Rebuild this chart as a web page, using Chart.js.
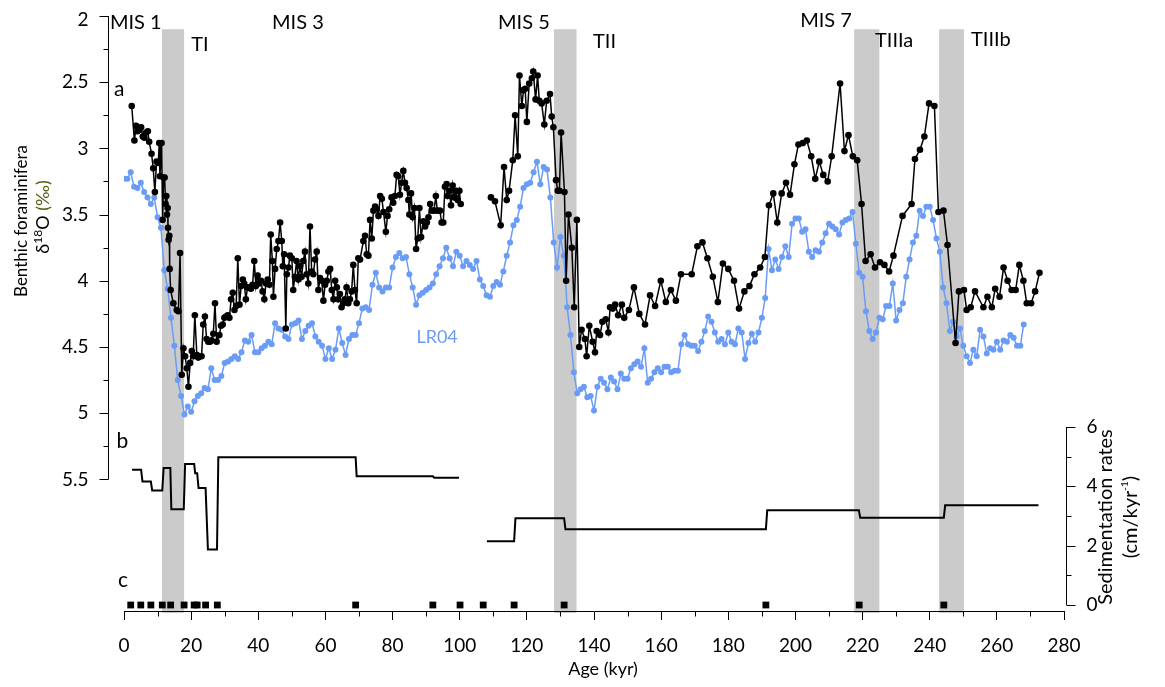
<!DOCTYPE html>
<html>
<head>
<meta charset="utf-8">
<script src="https://cdn.jsdelivr.net/npm/chart.js@4.4.1/dist/chart.umd.min.js"></script>
<style>
  html, body { margin: 0; padding: 0; background: #fff; }
  #wrap { width: 1165px; height: 687px; }
</style>
</head>
<body>
<div id="wrap"><canvas id="c" width="1165" height="687"></canvas></div>
<script>
// Benthic foraminifera d18O of the core (kyr, per mil); null marks the hiatus
const coreAge = [
  2.3, 3.1, 3.6, 4.0, 4.6, 5.1, 5.6, 6.1, 6.6, 7.1, 7.5, 8.2, 8.7, 9.2, 9.7, 10.2, 10.5, 10.7, 11.2, 11.5,
  11.8, 12.1, 12.4, 12.6, 12.8, 13.0, 13.1, 13.3, 13.5, 13.6, 13.9, 14.7, 15.7, 16.2, 16.7, 17.2, 17.7, 18.2, 18.7, 19.2,
  19.7, 20.2, 20.6, 21.1, 21.7, 22.1, 22.6, 23.1, 23.6, 24.1, 24.6, 25.1, 25.6, 26.1, 26.6, 27.1, 27.6, 28.4, 28.9, 29.4,
  29.9, 30.4, 30.9, 31.4, 31.9, 32.4, 32.9, 33.4, 33.9, 34.4, 34.9, 35.4, 35.8, 36.3, 36.8, 37.3, 37.8, 38.3, 38.8, 39.3,
  39.8, 40.3, 40.8, 41.3, 41.8, 42.3, 42.8, 43.3, 43.7, 44.2, 44.5, 45.0, 45.5, 46.0, 46.5, 47.0, 47.3, 47.7, 48.2, 48.5,
  49.0, 49.4, 50.0, 50.4, 50.9, 51.4, 51.9, 52.4, 52.9, 53.4, 53.9, 54.4, 54.9, 55.4, 55.9, 56.4, 56.9, 57.4, 57.9, 58.4,
  58.9, 59.4, 59.9, 60.4, 60.9, 61.4, 61.9, 62.4, 62.9, 63.4, 63.8, 64.3, 64.8, 65.3, 65.8, 66.3, 66.8, 67.3, 67.8, 68.3,
  68.8, 69.3, 69.8, 70.3, 71.3, 71.8, 72.3, 72.8, 73.3, 73.8, 74.3, 74.8, 75.3, 75.8, 76.3, 76.8, 77.3, 78.0, 78.5, 79.0,
  79.7, 80.2, 80.7, 81.2, 81.7, 82.2, 82.7, 83.2, 83.7, 84.2, 84.7, 85.0, 85.5, 86.0, 86.5, 87.0, 87.5, 88.0, 88.5, 89.2,
  89.7, 90.2, 90.7, 91.2, 91.7, 92.3, 92.9, 93.3, 94.1, 94.6, 95.1, 95.6, 96.1, 96.4, 96.9, 97.4, 97.9, 98.4, 98.9, 99.4,
  99.9, 100.3, 104.5,
  109.3, 110.5, 112.2, 113.2, 114.0, 114.7, 115.8, 116.5, 117.3, 117.8, 118.5, 119.0, 119.5, 120.0, 120.7, 121.5, 121.9, 122.6, 123.2, 123.7,
  124.4, 125.2, 125.9, 126.9, 127.4, 127.9, 128.7, 129.2, 129.7, 130.2, 131.2, 131.7, 132.4, 133.4, 134.1, 134.9, 135.6, 136.3, 137.3, 137.8,
  138.6, 139.6, 140.3, 140.8, 141.8, 142.5, 143.5, 144.3, 144.8, 145.6, 146.3, 147.2, 148.3, 149.0, 150.4, 151.9, 153.5, 155.2, 156.7, 158.2,
  159.9, 161.4, 162.9, 164.4, 165.9, 169.1, 170.8, 172.3, 173.8, 175.4, 176.9, 178.4, 180.0, 181.7, 183.2, 184.8, 186.3, 187.8, 189.5, 190.9,
  192.1, 193.4, 194.6, 195.9, 197.2, 198.4, 199.7, 200.9, 202.2, 203.4, 204.7, 205.9, 207.1, 208.3, 209.6, 210.8, 213.3, 214.6, 215.8, 217.1,
  218.4, 219.7, 220.9, 222.4, 223.7, 225.2, 226.5, 227.9, 229.2, 231.9, 234.6, 235.6, 237.1, 238.4, 239.8, 241.4, 242.6, 244.1, 245.3, 247.7,
  248.7, 250.2, 251.0, 252.2, 253.5, 256.0, 257.2, 258.5, 259.5, 260.8, 262.0, 263.2, 264.4, 265.6, 266.7, 267.9, 268.9, 270.2, 271.4, 272.7
];
const coreD18O = [
  2.68, 2.94, 2.83, 2.87, 2.86, 2.84, 2.91, 2.92, 2.88, 2.87, 2.95, 3.04, 3.15, 3.33, 3.10, 3.11, 2.96, 3.21, 2.96, 3.54,
  3.22, 3.22, 3.42, 3.36, 3.50, 3.45, 3.60, 3.69, 3.66, 3.91, 4.07, 4.17, 4.22, 4.23, 3.79, 4.71, 4.51, 4.57, 4.66, 4.80,
  4.62, 4.53, 4.57, 4.26, 4.56, 4.58, 4.57, 4.57, 4.33, 4.27, 4.44, 4.46, 4.46, 4.45, 4.40, 4.17, 4.46, 4.41, 4.34, 4.33,
  4.28, 4.27, 4.26, 4.28, 4.14, 4.09, 4.22, 4.19, 3.83, 4.18, 4.04, 3.99, 4.02, 4.14, 4.05, 4.05, 4.06, 4.03, 3.85, 4.04,
  3.96, 4.02, 4.00, 4.08, 4.14, 4.02, 3.99, 4.03, 3.65, 3.85, 4.12, 3.91, 3.76, 3.70, 3.56, 3.70, 3.89, 3.80, 4.36, 3.95,
  3.90, 3.81, 3.83, 4.07, 3.97, 3.85, 3.99, 3.89, 3.97, 3.85, 3.78, 3.95, 4.02, 3.59, 3.93, 3.95, 3.84, 3.78, 4.07, 3.98,
  4.00, 4.15, 4.03, 4.00, 3.93, 3.91, 4.07, 4.14, 4.00, 4.05, 4.14, 4.10, 4.20, 4.17, 4.14, 4.05, 4.17, 4.14, 4.08, 3.88,
  4.07, 4.17, 3.83, 3.84, 3.70, 3.66, 3.80, 3.81, 3.54, 3.68, 3.47, 3.44, 3.46, 3.51, 3.36, 3.38, 3.48, 3.63, 3.51, 3.46,
  3.37, 3.41, 3.36, 3.20, 3.21, 3.35, 3.26, 3.17, 3.26, 3.30, 3.39, 3.50, 3.34, 3.52, 3.45, 3.76, 3.68, 3.45, 3.67, 3.55,
  3.59, 3.56, 3.52, 3.42, 3.47, 3.47, 3.36, 3.47, 3.47, 3.56, 3.56, 3.29, 3.27, 3.36, 3.32, 3.43, 3.28, 3.37, 3.32, 3.39,
  3.32, 3.42, null,
  3.37, 3.40, 3.58, 3.14, 3.39, 3.32, 3.09, 2.75, 3.06, 2.45, 2.68, 2.56, 2.55, 2.80, 2.51, 2.47, 2.42, 2.63, 2.45, 2.64,
  2.66, 2.82, 2.64, 2.59, 2.76, 2.84, 3.24, 3.32, 3.32, 2.88, 3.33, 4.00, 3.50, 3.75, 4.20, 3.54, 4.50, 4.37, 4.44, 4.57,
  4.34, 4.46, 4.54, 4.38, 4.41, 4.31, 4.29, 4.39, 4.20, 4.21, 4.18, 4.26, 4.18, 4.28, 4.22, 4.05, 4.25, 4.33, 4.11, 4.19,
  4.00, 4.16, 4.07, 4.15, 3.95, 3.95, 3.74, 3.71, 3.83, 3.97, 4.16, 3.87, 3.91, 4.00, 4.21, 4.08, 4.04, 3.95, 3.90, 3.82,
  3.43, 3.34, 3.56, 3.34, 3.26, 3.35, 3.12, 2.97, 2.96, 2.94, 3.06, 3.23, 3.10, 3.20, 3.25, 3.06, 2.51, 3.02, 2.90, 3.06,
  3.09, 3.42, 3.85, 3.80, 3.90, 3.86, 3.88, 3.93, 3.81, 3.51, 3.42, 3.08, 3.01, 2.91, 2.66, 2.68, 3.48, 3.47, 3.73, 4.47,
  4.08, 4.07, 4.22, 4.20, 4.08, 4.20, 4.12, 4.20, 4.06, 4.12, 3.90, 4.00, 4.07, 4.07, 3.88, 4.00, 4.17, 4.17, 4.08, 3.94
];

// LR04 benthic stack (kyr, per mil)
const lr04Age = [
  0, 1, 2, 3, 4, 5, 6, 7, 8, 9, 10, 11, 12, 13, 14, 15, 16, 17, 18, 19,
  20, 21, 22, 23, 24, 25, 26, 27, 28, 29, 30, 31, 32, 33, 34, 35, 36, 37, 38, 39,
  40, 41, 42, 43, 44, 45, 46, 47, 48, 49, 50, 51, 52, 53, 54, 55, 56, 57, 58, 59,
  60, 61, 62, 63, 64, 65, 66, 67, 68, 69, 70, 71, 72, 73, 74, 75, 76, 77, 78, 79,
  80, 81, 82, 83, 84, 85, 86, 87, 88, 89, 90, 91, 92, 93, 94, 95, 96, 97, 98, 99,
  100, 101, 102, 103, 104, 105, 106, 107, 108, 109, 110, 111, 112, 113, 114, 115, 116, 117, 118, 119,
  120, 121, 122, 123, 124, 125, 126, 127, 128, 129, 130, 131, 132, 133, 134, 135, 136, 137, 138, 139,
  140, 141, 142, 143, 144, 145, 146, 147, 148, 149, 150, 151, 152, 153, 154, 155, 156, 157, 158, 159,
  160, 161, 162, 163, 164, 165, 166, 167, 168, 169, 170, 171, 172, 173, 174, 175, 176, 177, 178, 179,
  180, 181, 182, 183, 184, 185, 186, 187, 188, 189, 190, 191, 192, 193, 194, 195, 196, 197, 198, 199,
  200, 201, 202, 203, 204, 205, 206, 207, 208, 209, 210, 211, 212, 213, 214, 215, 216, 217, 218, 219,
  220, 221, 222, 223, 224, 225, 226, 227, 228, 229, 230, 231, 232, 233, 234, 235, 236, 237, 238, 239,
  240, 241, 242, 243, 244, 245, 246, 247, 248, 249, 250, 251, 252, 253, 254, 255, 256, 257, 258, 259,
  260, 261, 262, 263, 264, 265, 266, 267, 268
];
const lr04D18O = [
  3.23, 3.23, 3.18, 3.29, 3.30, 3.26, 3.33, 3.37, 3.42, 3.37, 3.52, 3.60, 3.92, 4.06, 4.28, 4.49, 4.75, 4.87, 5.01, 4.95,
  4.99, 4.91, 4.87, 4.85, 4.81, 4.82, 4.66, 4.75, 4.75, 4.72, 4.62, 4.61, 4.59, 4.57, 4.59, 4.54, 4.45, 4.46, 4.41, 4.54,
  4.54, 4.51, 4.49, 4.46, 4.48, 4.32, 4.36, 4.37, 4.42, 4.44, 4.33, 4.32, 4.30, 4.44, 4.38, 4.34, 4.32, 4.42, 4.46, 4.49,
  4.59, 4.51, 4.59, 4.52, 4.36, 4.47, 4.56, 4.44, 4.41, 4.41, 4.32, 4.21, 4.20, 4.22, 4.03, 3.94, 4.05, 4.08, 4.05, 4.05,
  3.90, 3.82, 3.79, 3.83, 3.82, 3.95, 4.05, 4.18, 4.11, 4.09, 4.07, 4.05, 4.02, 3.95, 3.89, 3.83, 3.75, 3.83, 3.89, 3.78,
  3.81, 3.89, 3.85, 3.88, 3.91, 3.85, 3.99, 4.04, 4.11, 4.12, 4.04, 4.01, 4.03, 3.93, 3.81, 3.71, 3.58, 3.54, 3.44, 3.30,
  3.27, 3.26, 3.18, 3.10, 3.27, 3.14, 3.16, 3.37, 3.71, 3.90, 3.67, 3.81, 4.20, 4.41, 4.69, 4.85, 4.82, 4.80, 4.88, 4.87,
  4.98, 4.80, 4.74, 4.77, 4.82, 4.73, 4.76, 4.82, 4.70, 4.74, 4.74, 4.66, 4.63, 4.61, 4.65, 4.51, 4.77, 4.74, 4.69, 4.66,
  4.69, 4.65, 4.65, 4.69, 4.68, 4.68, 4.48, 4.41, 4.48, 4.49, 4.49, 4.53, 4.46, 4.38, 4.27, 4.31, 4.39, 4.46, 4.44, 4.48,
  4.39, 4.46, 4.48, 4.36, 4.39, 4.59, 4.47, 4.40, 4.46, 4.39, 4.28, 4.13, 3.76, 3.92, 3.84, 3.91, 3.82, 3.74, 3.82, 3.57,
  3.53, 3.53, 3.63, 3.61, 3.78, 3.82, 3.77, 3.78, 3.71, 3.64, 3.57, 3.59, 3.61, 3.65, 3.56, 3.54, 3.53, 3.48, 3.72, 3.94,
  3.97, 4.23, 4.38, 4.44, 4.39, 4.28, 4.29, 4.19, 4.19, 4.02, 4.30, 4.22, 4.17, 3.97, 3.84, 3.71, 3.66, 3.47, 3.51, 3.44,
  3.44, 3.54, 3.68, 3.78, 4.05, 4.17, 4.38, 4.31, 4.42, 4.36, 4.49, 4.57, 4.62, 4.52, 4.57, 4.37, 4.42, 4.55, 4.51, 4.52,
  4.46, 4.52, 4.45, 4.46, 4.41, 4.43, 4.49, 4.49, 4.33
];

// Sedimentation rates between age control points (kyr, cm/kyr)
const sedAge = [
  2.4, 5.1, 5.5, 8.0, 8.4, 11.4, 11.8, 13.8, 14.1, 17.8, 18.2, 20.9, 21.2, 21.8, 22.2, 24.3, 25.0, 27.7, 28.1, 69.0,
  69.3, 92.0, 92.4, 99.8, 104.0,
  108.1, 116.2, 116.6, 131.1, 131.5, 191.2, 191.6, 218.9, 219.3, 244.2, 244.6, 272.4
];
const sedRate = [
  4.56, 4.56, 4.16, 4.16, 3.86, 3.86, 4.62, 4.62, 3.23, 3.23, 4.75, 4.75, 4.44, 4.44, 3.94, 3.94, 1.87, 1.87, 4.98, 4.98,
  4.34, 4.34, 4.29, 4.29, null,
  2.15, 2.15, 2.92, 2.92, 2.55, 2.55, 3.19, 3.19, 2.94, 2.94, 3.36, 3.36
];

// Age control points (kyr)
const tieAge = [2.0, 5.0, 8.0, 11.4, 13.9, 17.9, 20.9, 21.8, 24.3, 27.8, 69.0, 92.0, 100.1, 107.0, 116.2, 131.1, 191.2, 219.0, 244.2];

// Glacial terminations (kyr)
const termNames = ['TI', 'TII', 'TIIIa', 'TIIIb'];
const termStart = [11.3, 128.1, 217.5, 242.8];
const termEnd = [17.9, 134.8, 225.0, 250.2];

// Axis ticks
const ageTicks = [0, 20, 40, 60, 80, 100, 120, 140, 160, 180, 200, 220, 240, 260, 280];
const d18OTicks = [2, 2.5, 3, 3.5, 4, 4.5, 5, 5.5];
const sedTicks = [0, 2, 4, 6];

const FONT = 'Lato, "Open Sans", sans-serif';
const BLUE = '#6a9cf6';

function pts(xs, ys) { return xs.map((x, i) => ({ x: x, y: ys[i] })); }

// Labels placed in data units: x in kyr, y in per mil on the left scale
const notes = [
  { t: 'MIS 1', x: -4.2, y: 2.10, size: 20 },
  { t: 'MIS 3', x: 44.1, y: 2.095, size: 20 },
  { t: 'MIS 5', x: 111.4, y: 2.095, size: 20 },
  { t: 'MIS 7', x: 201.4, y: 2.082, size: 20 },
  { t: 'TI', x: 20.0, y: 2.262, size: 20 },
  { t: 'TII', x: 139.7, y: 2.238, size: 20 },
  { t: 'TIIIa', x: 223.7, y: 2.232, size: 20 },
  { t: 'TIIIb', x: 252.3, y: 2.224, size: 20 },
  { t: 'a', x: -3.0, y: 2.605, size: 21 },
  { t: 'b', x: -2.2, y: 5.263, size: 21 },
  { t: 'c', x: -1.8, y: 6.31, size: 21 },
  { t: 'LR04', x: 87.1, y: 4.468, size: 18, color: BLUE }
];

const frame = {
  id: 'frame',
  beforeDraw(chart) {
    const { ctx, chartArea, scales } = chart;
    const x = scales.x, y = scales.y;
    ctx.save();
    ctx.fillStyle = '#cbcbcb';
    const top = y.getPixelForValue(2.1);
    termStart.forEach((s, i) => {
      const a = x.getPixelForValue(s), b = x.getPixelForValue(termEnd[i]);
      ctx.fillRect(a, top, b - a, chartArea.bottom + 2 - top);
    });
    ctx.restore();
  },
  afterDraw(chart) {
    const { ctx, chartArea, scales } = chart;
    const x = scales.x, y = scales.y, y2 = scales.y2;
    ctx.save();
    ctx.strokeStyle = '#000';
    ctx.fillStyle = '#000';
    ctx.lineWidth = 1;

    // minor ticks and labels of the age axis
    const base = Math.round(chartArea.bottom) + 0.5;
    ctx.beginPath();
    for (let v = 10; v < 280; v += 20) {
      const px = Math.round(x.getPixelForValue(v)) + 0.5;
      ctx.moveTo(px, base); ctx.lineTo(px, base + 5);
    }
    ctx.stroke();
    ctx.font = '19px ' + FONT;
    ctx.textAlign = 'center';
    ctx.textBaseline = 'alphabetic';
    ageTicks.forEach(v => ctx.fillText(String(v), x.getPixelForValue(v), chartArea.bottom + 41));

    // left d18O axis, drawn only over its labelled range
    const ax = Math.round(chartArea.left - 16) + 0.5;
    ctx.beginPath();
    ctx.moveTo(ax, y.getPixelForValue(2)); ctx.lineTo(ax, y.getPixelForValue(5.5));
    for (let v = 2; v <= 5.5001; v += 0.25) {
      const py = Math.round(y.getPixelForValue(v)) + 0.5;
      const major = Math.abs(v * 2 - Math.round(v * 2)) < 1e-6;
      ctx.moveTo(ax, py); ctx.lineTo(ax - (major ? 9 : 5), py);
    }
    ctx.stroke();
    ctx.textAlign = 'right';
    ctx.textBaseline = 'middle';
    d18OTicks.forEach(v => {
      let py = y.getPixelForValue(v);
      if (v === 2) py += 4;
      ctx.fillText(String(v), ax - 20, py);
    });

    // right sedimentation-rate axis
    const bx = Math.round(x.getPixelForValue(280) + 2) + 0.5;
    ctx.beginPath();
    ctx.moveTo(bx, y2.getPixelForValue(0)); ctx.lineTo(bx, y2.getPixelForValue(6));
    for (let v = 0; v <= 6; v += 1) {
      const py = Math.round(y2.getPixelForValue(v)) + 0.5;
      ctx.moveTo(bx, py); ctx.lineTo(bx + (v % 2 === 0 ? 9 : 5), py);
    }
    ctx.stroke();
    ctx.textAlign = 'left';
    sedTicks.forEach(v => ctx.fillText(String(v), bx + 20, y2.getPixelForValue(v)));

    // axis titles
    ctx.textAlign = 'center';
    ctx.textBaseline = 'middle';
    ctx.font = '18px ' + FONT;
    ctx.fillText('Age (kyr)', x.getPixelForValue(142.7), chartArea.bottom + 58);

    // left title, two rotated lines
    ctx.save();
    ctx.translate(22, 221);
    ctx.rotate(-Math.PI / 2);
    ctx.font = '17px ' + FONT;
    ctx.textAlign = 'center';
    ctx.fillText('Benthic foraminifera', 0, 0);
    ctx.restore();

    ctx.save();
    ctx.translate(43, 217);
    ctx.rotate(-Math.PI / 2);
    const big = '18px ' + FONT, small = '12px ' + FONT;
    const parts = [
      { s: '\u03B4', f: big, dy: 0, c: '#000' },
      { s: '18', f: small, dy: -5, c: '#000' },
      { s: 'O ', f: big, dy: 0, c: '#000' },
      { s: '(\u2030)', f: big, dy: 0, c: '#5a5a12' }
    ];
    let total = 0;
    parts.forEach(p => { ctx.font = p.f; p.w = ctx.measureText(p.s).width; total += p.w; });
    let cx = -total / 2;
    ctx.textAlign = 'left';
    parts.forEach(p => { ctx.font = p.f; ctx.fillStyle = p.c; ctx.fillText(p.s, cx, p.dy); cx += p.w; });
    ctx.restore();

    // right title, two rotated lines
    ctx.save();
    ctx.translate(1106, 517);
    ctx.rotate(-Math.PI / 2);
    ctx.font = '20px ' + FONT;
    ctx.textAlign = 'center';
    ctx.fillText('Sedimentation rates', 0, 0);
    ctx.restore();

    ctx.save();
    ctx.translate(1131, 517);
    ctx.rotate(-Math.PI / 2);
    const rb = '20px ' + FONT, rs = '10px ' + FONT;
    const rparts = [
      { s: '(cm/kyr', f: rb, dy: 0 },
      { s: '-1', f: rs, dy: -6 },
      { s: ')', f: rb, dy: 0 }
    ];
    let rt = 0;
    rparts.forEach(p => { ctx.font = p.f; p.w = ctx.measureText(p.s).width; rt += p.w; });
    let rx = -rt / 2;
    ctx.textAlign = 'left';
    rparts.forEach(p => { ctx.font = p.f; ctx.fillText(p.s, rx, p.dy); rx += p.w; });
    ctx.restore();

    // stage, termination and panel labels
    ctx.textAlign = 'left';
    ctx.textBaseline = 'alphabetic';
    notes.forEach(n => {
      ctx.font = n.size + 'px ' + FONT;
      ctx.fillStyle = n.color || '#000';
      ctx.fillText(n.t, x.getPixelForValue(n.x), y.getPixelForValue(n.y));
    });
    ctx.restore();
  }
};

new Chart(document.getElementById('c'), {
  type: 'line',
  data: {
    datasets: [
      {
        label: 'Benthic d18O',
        data: pts(coreAge, coreD18O),
        yAxisID: 'y',
        borderColor: '#000',
        backgroundColor: '#000',
        borderWidth: 1.5,
        pointRadius: 3.3,
        pointBorderWidth: 0,
        pointBackgroundColor: '#000',
        spanGaps: false,
        order: 0
      },
      {
        label: 'LR04',
        data: pts(lr04Age, lr04D18O),
        yAxisID: 'y',
        borderColor: BLUE,
        backgroundColor: BLUE,
        borderWidth: 1.5,
        pointRadius: 3,
        pointBorderWidth: 0,
        pointBackgroundColor: BLUE,
        order: 1
      },
      {
        label: 'Sedimentation rate',
        data: pts(sedAge, sedRate),
        yAxisID: 'y2',
        borderColor: '#000',
        borderWidth: 2,
        pointRadius: 0,
        spanGaps: false,
        order: 2
      },
      {
        label: 'Age control points',
        data: tieAge.map(a => ({ x: a, y: 0 })),
        yAxisID: 'y2',
        showLine: false,
        pointStyle: 'rect',
        pointRadius: 4.8,
        pointBorderWidth: 0,
        pointBackgroundColor: '#000',
        order: 3
      }
    ]
  },
  options: {
    responsive: false,
    animation: false,
    devicePixelRatio: 1,
    layout: { padding: { left: 124, right: 101, top: 16, bottom: 0 } },
    plugins: { legend: { display: false }, tooltip: { enabled: false } },
    scales: {
      x: {
        type: 'linear',
        position: 'bottom',
        min: 0,
        max: 280,
        afterFit(s) { s.height = 76; },
        ticks: { stepSize: 20, display: false, maxRotation: 0, autoSkip: false },
        grid: { drawOnChartArea: false, drawTicks: true, tickLength: 9, color: '#000', tickColor: '#000' },
        border: { display: true, color: '#000', width: 1 }
      },
      y: { type: 'linear', reverse: true, min: 2, max: 6.494, display: false },
      y2: { type: 'linear', min: -0.202, max: 19.85, display: false }
    }
  },
  plugins: [frame]
});
</script>
</body>
</html>
